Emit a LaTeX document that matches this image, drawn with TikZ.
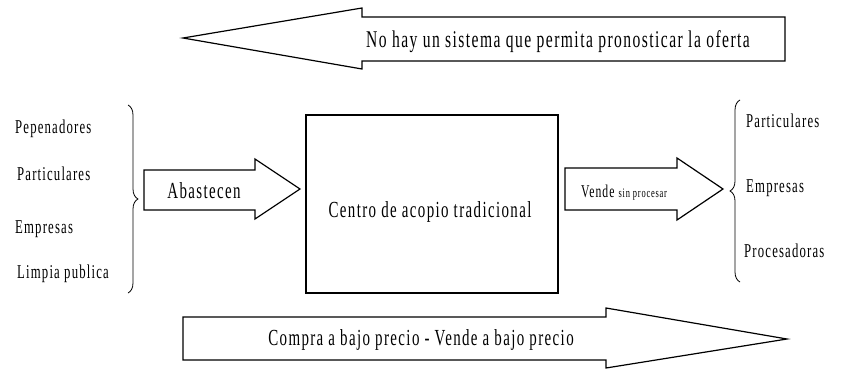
\documentclass[tikz,border=0pt]{standalone}
\usepackage{fontspec}
\setmainfont{Liberation Serif}[FakeStretch=0.65,LetterSpace=6]
\usetikzlibrary{decorations.pathreplacing}

\begin{document}
\begin{tikzpicture}[x=1pt,y=-1pt,
    blockarrow/.style={draw,fill=white,line width=1.2pt,line join=miter},
    bigtext/.style={font=\fontsize{23}{23}\selectfont,inner sep=0pt,anchor=base},
    listtext/.style={font=\fontsize{19.6}{20}\selectfont,inner sep=0pt,anchor=base west},
    bracedeco/.style={decorate,decoration={brace,amplitude=10pt},line width=0.8pt}]
  \useasboundingbox (0,0) rectangle (842,369);

  % top arrow, pointing back to the sources
  \begin{scope}
    \coordinate (t1) at (183,38);
    \coordinate (t2) at (362,8);
    \coordinate (t3) at (362,17);
    \coordinate (t4) at (785,17);
    \coordinate (t5) at (785,61);
    \coordinate (t6) at (362,61);
    \coordinate (t7) at (362,69);

    \filldraw[blockarrow] (t1) -- (t2) -- (t3) -- (t4) -- (t5) -- (t6) -- (t7) -- cycle;
    \node[bigtext,font=\fontsize{24}{24}\selectfont] (oferta) at (558,48) {No hay un sistema que permita pronosticar la oferta};
  \end{scope}

  % centre
  \node[draw,line width=1.2pt,minimum width=252pt,minimum height=178pt] (centro) at (432,204) {};
  \node[bigtext] (centrotxt) at (430,217) {Centro de acopio tradicional};

  % sources
  \node[listtext] (pepenadores) at (15,133) {Pepenadores};
  \node[listtext] (particularesL) at (17,180) {Particulares};
  \node[listtext] (empresasL) at (15,233) {Empresas};
  \node[listtext] (limpia) at (17,278) {Limpia publica};
  \coordinate (bl1) at (128,105);
  \coordinate (bl2) at (128,293);
  \draw[bracedeco] (bl1) -- (bl2);

  \begin{scope}
    \coordinate (a1) at (144,170);
    \coordinate (a2) at (255,170);
    \coordinate (a3) at (255,159);
    \coordinate (a4) at (300,189);
    \coordinate (a5) at (255,219);
    \coordinate (a6) at (255,210);
    \coordinate (a7) at (144,210);

    \filldraw[blockarrow] (a1) -- (a2) -- (a3) -- (a4) -- (a5) -- (a6) -- (a7) -- cycle;
    \node[bigtext] (abastecen) at (204,198) {Abastecen};
  \end{scope}

  % buyers
  \begin{scope}
    \coordinate (v1) at (565,168);
    \coordinate (v2) at (677,168);
    \coordinate (v3) at (677,158);
    \coordinate (v4) at (723,189);
    \coordinate (v5) at (677,220);
    \coordinate (v6) at (677,210);
    \coordinate (v7) at (565,210);

    \filldraw[blockarrow] (v1) -- (v2) -- (v3) -- (v4) -- (v5) -- (v6) -- (v7) -- cycle;
    \node[bigtext,font=\fontsize{18}{18}\selectfont] (vende) at (624,197) {Vende {\fontsize{13}{13}\selectfont sin procesar}};
  \end{scope}

  \coordinate (br1) at (740,282);
  \coordinate (br2) at (740,100);
  \draw[bracedeco] (br1) -- (br2);
  \node[listtext] (particularesR) at (746,127) {Particulares};
  \node[listtext] (empresasR) at (746,192) {Empresas};
  \node[listtext] (procesadoras) at (744,257) {Procesadoras};

  % bottom arrow
  \begin{scope}
    \coordinate (b1) at (183,317);
    \coordinate (b2) at (606,317);
    \coordinate (b3) at (606,308);
    \coordinate (b4) at (787,339);
    \coordinate (b5) at (606,368);
    \coordinate (b6) at (606,360);
    \coordinate (b7) at (183,360);

    \filldraw[blockarrow] (b1) -- (b2) -- (b3) -- (b4) -- (b5) -- (b6) -- (b7) -- cycle;
    \node[bigtext] (precio) at (421,345) {Compra a bajo precio - Vende a bajo precio};
  \end{scope}

\end{tikzpicture}
\end{document}
